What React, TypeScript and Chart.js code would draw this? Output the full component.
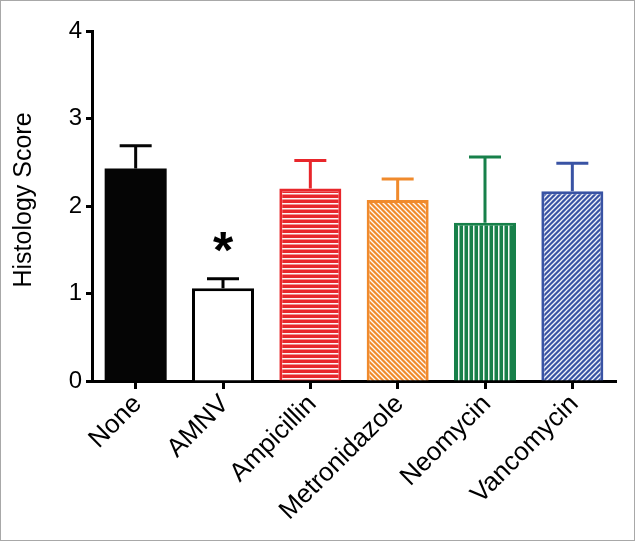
import React, { useEffect, useRef } from "react";
import { Chart, registerables } from "chart.js";

Chart.register(...registerables);

const categories = ["None", "AMNV", "Ampicillin", "Metronidazole", "Neomycin", "Vancomycin"];
const meanScores = [2.43, 1.06, 2.2, 2.07, 1.81, 2.17];
const upperErrors = [2.69, 1.17, 2.52, 2.31, 2.56, 2.49];
const significance = ["", "*", "", "", "", ""];
const yTicks = [0, 1, 2, 3, 4];
const yTitle = "Histology Score";

const colors = ["#050505", "#000000", "#e8262b", "#f08a2c", "#17804a", "#3953a4"];
const FONT = "'Liberation Sans', Arial, Helvetica, sans-serif";

function makePattern(color: string, kind: string): CanvasPattern | string {
  const s = 5;
  const c = document.createElement("canvas");
  c.width = s;
  c.height = s;
  const g = c.getContext("2d");
  if (!g) return color;
  g.fillStyle = color;
  g.fillRect(0, 0, s, s);
  g.strokeStyle = "rgba(255,255,255,0.95)";
  g.fillStyle = "rgba(255,255,255,0.95)";
  g.lineWidth = 1.3;
  if (kind === "h") {
    g.fillRect(0, 2, s, 1.5);
  } else if (kind === "v") {
    g.fillRect(2, 0, 1.5, s);
  } else if (kind === "d1") {
    g.beginPath();
    g.moveTo(-1, s + 1);
    g.lineTo(s + 1, -1);
    g.moveTo(-1, 1);
    g.lineTo(1, -1);
    g.moveTo(s - 1, s + 1);
    g.lineTo(s + 1, s - 1);
    g.stroke();
  } else {
    g.beginPath();
    g.moveTo(-1, -1);
    g.lineTo(s + 1, s + 1);
    g.moveTo(s - 1, -1);
    g.lineTo(s + 1, 1);
    g.moveTo(-1, s - 1);
    g.lineTo(1, s + 1);
    g.stroke();
  }
  const p = g.createPattern(c, "repeat");
  return p || color;
}

const errorBarPlugin = {
  id: "errorBars",
  afterDatasetsDraw(chart: any) {
    const meta = chart.getDatasetMeta(0);
    const yScale = chart.scales.y;
    const ctx = chart.ctx;
    ctx.save();
    meta.data.forEach((bar: any, i: number) => {
      const x = bar.x;
      const yBar = bar.y;
      const yTop = yScale.getPixelForValue(upperErrors[i]);
      ctx.strokeStyle = colors[i];
      ctx.lineWidth = 3;
      ctx.beginPath();
      ctx.moveTo(x, yBar);
      ctx.lineTo(x, yTop);
      ctx.moveTo(x - 16, yTop);
      ctx.lineTo(x + 16, yTop);
      ctx.stroke();
      if (significance[i]) {
        ctx.fillStyle = "#000";
        ctx.font = `bold 52px ${FONT}`;
        ctx.textAlign = "center";
        ctx.textBaseline = "alphabetic";
        ctx.fillText(significance[i], x, yTop - 11);
      }
    });
    ctx.save();
    ctx.translate(23, 199);
    ctx.rotate(-Math.PI / 2);
    ctx.fillStyle = "#000";
    ctx.font = `25px ${FONT}`;
    ctx.textAlign = "center";
    ctx.textBaseline = "middle";
    ctx.fillText(yTitle, 0, 0);
    ctx.restore();
    ctx.restore();
  },
};

export default function App() {
  const ref = useRef<HTMLCanvasElement | null>(null);
  useEffect(() => {
    if (!ref.current) return;
    const kinds = ["solid", "solid", "h", "d2", "v", "d1"];
    const bg = kinds.map((k, i) => {
      if (i === 0) return colors[0];
      if (i === 1) return "#ffffff";
      return makePattern(colors[i], k);
    });
    const chart = new Chart(ref.current, {
      type: "bar",
      data: {
        labels: categories,
        datasets: [
          {
            data: meanScores,
            backgroundColor: bg as any,
            borderColor: colors,
            borderWidth: [0, 3, 3, 3, 3, 3],
            borderSkipped: "bottom",
            barPercentage: 0.71,
            categoryPercentage: 1,
          },
        ],
      },
      options: {
        responsive: false,
        animation: false,
        devicePixelRatio: 1,
        layout: { padding: { left: 0, right: 18, top: 30, bottom: 0 } },
        plugins: { legend: { display: false }, tooltip: { enabled: false } },
        scales: {
          x: {
            offset: true,
            grid: {
              offset: false,
              drawOnChartArea: false,
              drawTicks: true,
              tickLength: 8,
              tickWidth: 3,
              tickColor: "#000",
            },
            border: { color: "#000", width: 3 },
            ticks: {
              color: "#000",
              font: { family: FONT, size: 26 },
              maxRotation: 45,
              minRotation: 45,
              autoSkip: false,
              padding: 0,
              labelOffset: 2,
            },
            afterFit(scale: any) {
              scale.height = 159;
            },
          },
          y: {
            min: 0,
            max: 4,
            afterBuildTicks(scale: any) {
              scale.ticks = yTicks.map((v) => ({ value: v }));
            },
            grid: {
              drawOnChartArea: false,
              drawTicks: true,
              tickLength: 6,
              tickWidth: 3,
              tickColor: "#000",
            },
            border: { color: "#000", width: 3 },
            ticks: {
              color: "#000",
              font: { family: FONT, size: 24 },
              padding: 4,
            },
            afterFit(scale: any) {
              scale.width = 91;
            },
          },
        },
      },
      plugins: [errorBarPlugin],
    });
    return () => chart.destroy();
  }, []);
  return (
    <div
      style={{
        position: "fixed",
        left: 0,
        top: 0,
        width: 635,
        height: 541,
        border: "1px solid #a8a8a8",
        boxSizing: "border-box",
        background: "#fff",
      }}
    >
      <canvas ref={ref} width={633} height={539} style={{ display: "block" }} />
    </div>
  );
}
